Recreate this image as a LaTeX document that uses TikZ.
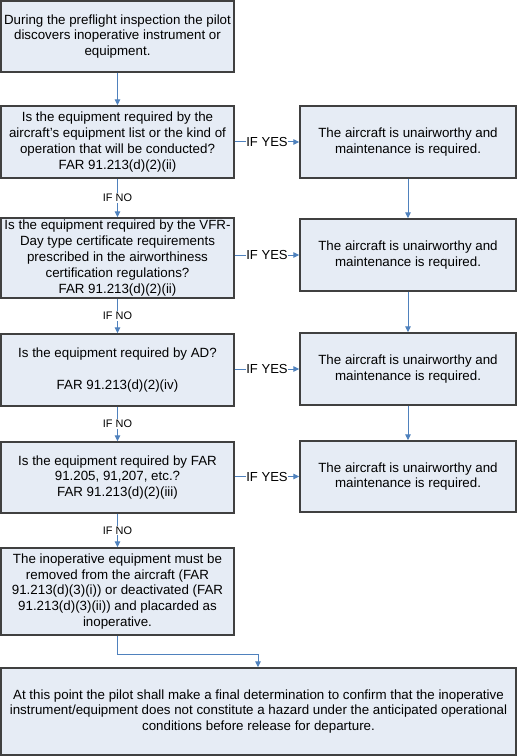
\documentclass[tikz,border=0pt]{standalone}
\usepackage{fontspec}
\setmainfont{Liberation Sans}
\usetikzlibrary{arrows.meta,calc}
\definecolor{boxfill}{HTML}{E6ECF5}
\definecolor{boxline}{HTML}{404040}
\definecolor{arrowblue}{HTML}{4F81BD}
\begin{document}
\begin{tikzpicture}[x=0.75pt,y=-0.75pt,
  flowbox/.style={draw=boxline, fill=boxfill, line width=1.1pt, align=center,
    inner sep=0pt, font=\fontsize{10pt}{11.85pt}\selectfont},
  conn/.style={draw=arrowblue, line width=0.75pt, -{Triangle[width=4.2pt,length=4.5pt]}},
  yeslabel/.style={fill=white, inner sep=0.6pt, font=\fontsize{9.8pt}{11pt}\selectfont},
  nolabel/.style={fill=white, inner sep=0.6pt, font=\fontsize{8.2pt}{9pt}\selectfont}]
\useasboundingbox[fill=white] (0,0) rectangle (517,756);

\node[flowbox, minimum width=233*0.75pt, minimum height=71*0.75pt] (top) at (117.5,36.5)
  {During the preflight inspection the pilot\\discovers inoperative instrument or\\equipment.};

\node[flowbox, minimum width=233*0.75pt, minimum height=72*0.75pt] (q1) at (117.5,142)
  {Is the equipment required by the\\aircraft's equipment list or the kind of\\operation that will be conducted?\\FAR 91.213(d)(2)(ii)};
\node[flowbox, minimum width=216*0.75pt, minimum height=72*0.75pt] (r1) at (408,142)
  {The aircraft is unairworthy and\\maintenance is required.};

\node[flowbox, minimum width=233*0.75pt, minimum height=80*0.75pt] (q2) at (117.5,258)
  {Is the equipment required by the VFR-\\Day type certificate requirements\\prescribed in the airworthiness\\certification regulations?\\FAR 91.213(d)(2)(ii)};
\node[flowbox, minimum width=216*0.75pt, minimum height=72*0.75pt] (r2) at (408,255)
  {The aircraft is unairworthy and\\maintenance is required.};

\node[flowbox, minimum width=233*0.75pt, minimum height=72*0.75pt] (q3) at (117.5,370)
  {Is the equipment required by AD?\\[11.85pt]FAR 91.213(d)(2)(iv)};
\node[flowbox, minimum width=216*0.75pt, minimum height=72*0.75pt] (r3) at (408,369)
  {The aircraft is unairworthy and\\maintenance is required.};

\node[flowbox, minimum width=233*0.75pt, minimum height=71*0.75pt] (q4) at (117.5,477.5)
  {Is the equipment required by FAR\\91.205, 91,207, etc.?\\FAR 91.213(d)(2)(iii)};
\node[flowbox, minimum width=216*0.75pt, minimum height=71*0.75pt] (r4) at (408,476.5)
  {The aircraft is unairworthy and\\maintenance is required.};

\node[flowbox, minimum width=233*0.75pt, minimum height=87*0.75pt] (q5) at (117.5,591.5)
  {The inoperative equipment must be\\removed from the aircraft (FAR\\91.213(d)(3)(i)) or deactivated (FAR\\91.213(d)(3)(ii)) and placarded as\\inoperative.};

\node[flowbox, minimum width=515*0.75pt, minimum height=87*0.75pt] (fin) at (258.5,711.5)
  {At this point the pilot shall make a final determination to confirm that the inoperative\\instrument/equipment does not constitute a hazard under the anticipated operational\\conditions before release for departure.};

% vertical left column
\draw[conn] (top.south) -- (q1.north);
\draw[conn] (q1.south) -- node[nolabel] {IF NO} (q2.north);
\draw[conn] (q2.south) -- node[nolabel] {IF NO} (q3.north);
\draw[conn] (q3.south) -- node[nolabel] {IF NO} (q4.north);
\draw[conn] (q4.south) -- node[nolabel] {IF NO} (q5.north);

% yes branches
\draw[conn] (r1.west -| q1.east) -- node[yeslabel] {IF YES} (r1.west);
\draw[conn] (r2.west -| q2.east) -- node[yeslabel] {IF YES} (r2.west);
\draw[conn] (r3.west -| q3.east) -- node[yeslabel] {IF YES} (r3.west);
\draw[conn] (r4.west -| q4.east) -- node[yeslabel] {IF YES} (r4.west);

% right column
\draw[conn] (r1.south) -- (r2.north);
\draw[conn] (r2.south) -- (r3.north);
\draw[conn] (r3.south) -- (r4.north);

% to final
\coordinate (fj) at (258,654);
\draw[conn] (q5.south) |- (fj) -- (fj |- fin.north);
\end{tikzpicture}
\end{document}
